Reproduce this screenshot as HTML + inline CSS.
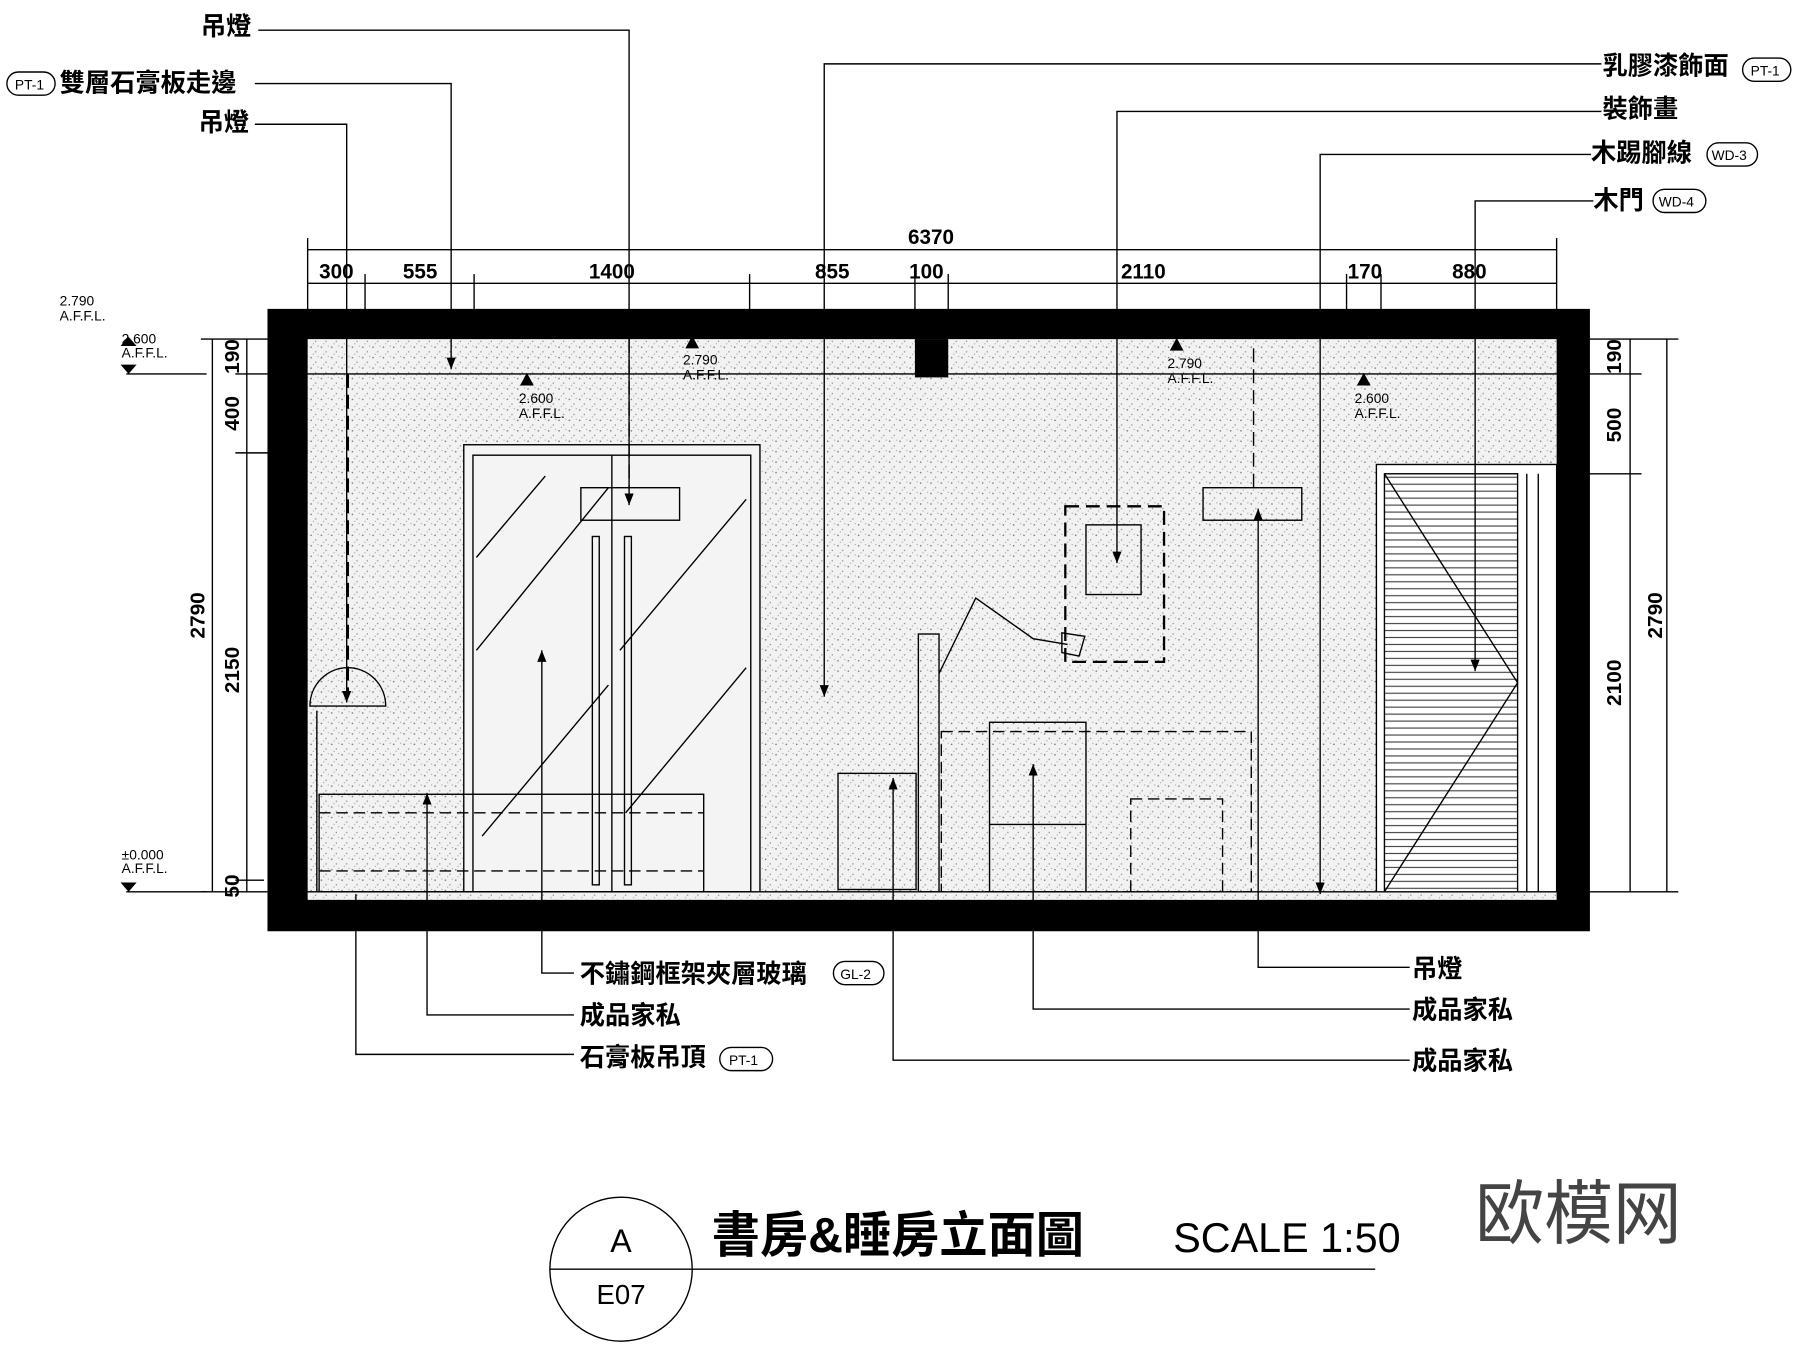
<!DOCTYPE html>
<html><head><meta charset="utf-8"><style>
html,body{margin:0;padding:0;background:#fff;}
svg{display:block;}
text{font-family:"Liberation Sans","Noto Sans CJK TC",sans-serif;fill:#000;}
.cj{font-weight:bold;font-size:22px;}
.dim{font-size:18px;font-weight:bold;}
.sm{font-size:12px;}
</style></head><body>
<svg width="1800" height="1347" viewBox="0 0 1568 1160" preserveAspectRatio="none" xmlns="http://www.w3.org/2000/svg">
<defs>
<pattern id="sp" width="9" height="9" patternUnits="userSpaceOnUse">
<rect width="9" height="9" fill="#f2f2f2"/>
<circle cx="1" cy="2" r="0.7" fill="#777"/><circle cx="5" cy="6" r="0.6" fill="#888"/><circle cx="7" cy="1" r="0.5" fill="#999"/><circle cx="3" cy="8" r="0.5" fill="#999"/>
</pattern>
<pattern id="sl" width="10" height="6" patternUnits="userSpaceOnUse">
<rect width="10" height="6" fill="#fff"/><line x1="0" y1="3" x2="10" y2="3" stroke="#444" stroke-width="1"/>
</pattern>
<marker id="ar" markerWidth="10" markerHeight="8" refX="10" refY="4" orient="auto" markerUnits="userSpaceOnUse"><path d="M0,0 L10,4 L0,8 Z" fill="#000"/></marker>
</defs>
<rect width="1568" height="1160" fill="#fff"/>
<rect x="268" y="292" width="1088" height="483" fill="url(#sp)"/>
<path d="M233,266 H1385 V802 H233 Z M268,292 V775 H1356 V292 Z" fill="#000" fill-rule="evenodd"/>
<rect x="797" y="292" width="29" height="33" fill="#000"/>
<g stroke="#000" fill="none" stroke-width="1.2">
<line x1="268" y1="322" x2="1356" y2="322"/>
<line x1="268" y1="768" x2="1356" y2="768"/>
<rect x="404" y="383" width="258" height="385" fill="#f4f4f4"/>
<rect x="412" y="392" width="242" height="376"/>
<line x1="533" y1="392" x2="533" y2="768"/>
<rect x="516" y="462" width="6" height="300"/><rect x="544" y="462" width="6" height="300"/>
<line x1="415" y1="480" x2="475" y2="410"/><line x1="415" y1="560" x2="530" y2="420"/>
<line x1="420" y1="720" x2="530" y2="590"/><line x1="540" y1="560" x2="650" y2="430"/>
<line x1="545" y1="700" x2="650" y2="575"/>
<rect x="506" y="420" width="86" height="28"/>
<rect x="1199" y="400" width="157" height="368" fill="#fff"/>
<rect x="1206" y="408" width="116" height="360" fill="url(#sl)"/>
<line x1="1206" y1="408" x2="1322" y2="588"/><line x1="1206" y1="768" x2="1322" y2="588"/>
<line x1="1330" y1="408" x2="1330" y2="768"/><line x1="1340" y1="408" x2="1340" y2="768"/>
<rect x="278" y="684" width="335" height="84"/>
<line x1="278" y1="700" x2="613" y2="700" stroke-dasharray="10,5"/>
<line x1="278" y1="750" x2="613" y2="750" stroke-dasharray="10,5"/>
<line x1="276" y1="612" x2="276" y2="768"/>
<path d="M270,608 A33,33 0 0 1 336,608 Z"/>
<rect x="730" y="666" width="68" height="100"/>
<rect x="800" y="546" width="18" height="222"/>
<rect x="820" y="630" width="270" height="138" stroke-dasharray="10,5"/>
<rect x="862" y="622" width="84" height="146"/>
<line x1="862" y1="710" x2="946" y2="710"/>
<rect x="985" y="688" width="80" height="80" stroke-dasharray="10,5"/>
<path d="M818,580 L850,515 L900,550 L930,555"/>
<path d="M925,545 L945,548 L940,565 L925,562 Z"/>
<rect x="928" y="436" width="86" height="134" stroke-dasharray="12,6" stroke-width="2"/>
<rect x="946" y="452" width="48" height="60"/>
<rect x="1048" y="420" width="86" height="28"/>
<line x1="1092" y1="300" x2="1092" y2="420" stroke-dasharray="12,6"/>
<line x1="548" y1="292" x2="548" y2="420" stroke-dasharray="12,6"/>
<line x1="303" y1="322" x2="303" y2="600" stroke-dasharray="12,6" stroke-width="2"/>
<line x1="268" y1="215" x2="1356" y2="215"/>
<line x1="268" y1="244" x2="1356" y2="244"/>
<line x1="268" y1="205" x2="268" y2="290"/><line x1="1356" y1="205" x2="1356" y2="290"/>
<line x1="318" y1="236" x2="318" y2="290"/><line x1="413" y1="236" x2="413" y2="290"/>
<line x1="653" y1="236" x2="653" y2="290"/><line x1="797" y1="236" x2="797" y2="290"/>
<line x1="826" y1="236" x2="826" y2="290"/><line x1="1173" y1="236" x2="1173" y2="290"/>
<line x1="1203" y1="236" x2="1203" y2="290"/>
<line x1="185" y1="292" x2="185" y2="768"/><line x1="215" y1="292" x2="215" y2="768"/>
<line x1="175" y1="292" x2="268" y2="292"/><line x1="205" y1="322" x2="268" y2="322"/>
<line x1="205" y1="390" x2="268" y2="390"/><line x1="175" y1="768" x2="268" y2="768"/>
<line x1="205" y1="758" x2="230" y2="758"/>
<line x1="110" y1="322" x2="180" y2="322"/><line x1="110" y1="768" x2="180" y2="768"/>
<line x1="1420" y1="292" x2="1420" y2="768"/><line x1="1452" y1="292" x2="1452" y2="768"/>
<line x1="1356" y1="292" x2="1462" y2="292"/><line x1="1356" y1="322" x2="1430" y2="322"/>
<line x1="1356" y1="408" x2="1430" y2="408"/><line x1="1356" y1="768" x2="1462" y2="768"/>
<polyline points="225,26 548,26 548,435" marker-end="url(#ar)"/>
<polyline points="222,72 393,72 393,318" marker-end="url(#ar)"/>
<polyline points="222,107 302,107 302,605" marker-end="url(#ar)"/>
<polyline points="1395,55 718,55 718,600" marker-end="url(#ar)"/>
<polyline points="1395,96 973,96 973,485" marker-end="url(#ar)"/>
<polyline points="1386,133 1150,133 1150,770" marker-end="url(#ar)"/>
<polyline points="1388,173 1285,173 1285,578" marker-end="url(#ar)"/>
<polyline points="500,838 472,838 472,560" marker-end="url(#ar)"/>
<polyline points="500,874 372,874 372,683" marker-end="url(#ar)"/>
<polyline points="500,908 310,908 310,770"/>
<polyline points="1228,833 1096,833 1096,438" marker-end="url(#ar)"/>
<polyline points="1228,869 900,869 900,658" marker-end="url(#ar)"/>
<polyline points="1228,913 778,913 778,670" marker-end="url(#ar)"/>
<circle cx="541" cy="1093" r="62"/>
<line x1="479" y1="1093" x2="1198" y2="1093"/>
</g>
<g fill="#000">
<path d="M453,332 L459,321 L465,332Z"/><path d="M597,300 L603,289 L609,300Z"/>
<path d="M1019,302 L1025,291 L1031,302Z"/><path d="M1182,332 L1188,321 L1194,332Z"/>
<path d="M105,298 L112,290 L119,298Z"/><path d="M105,314 L112,322 L119,314Z"/>
<path d="M105,760 L112,768 L119,760Z"/>
</g>
<g class="sm">
<text x="452" y="347">2.600</text><text x="452" y="360">A.F.F.L.</text>
<text x="595" y="314">2.790</text><text x="595" y="327">A.F.F.L.</text>
<text x="1017" y="317">2.790</text><text x="1017" y="330">A.F.F.L.</text>
<text x="1180" y="347">2.600</text><text x="1180" y="360">A.F.F.L.</text>
<text x="52" y="263">2.790</text><text x="52" y="276">A.F.F.L.</text>
<text x="106" y="296">2.600</text><text x="106" y="308">A.F.F.L.</text>
<text x="106" y="740">±0.000</text><text x="106" y="752">A.F.F.L.</text>
</g>
<g class="dim" text-anchor="middle">
<text x="811" y="210">6370</text>
<text x="293" y="240">300</text><text x="366" y="240">555</text><text x="533" y="240">1400</text>
<text x="725" y="240">855</text><text x="807" y="240">100</text><text x="996" y="240">2110</text>
<text x="1189" y="240">170</text><text x="1280" y="240">880</text>
<text transform="translate(208,307) rotate(-90)">190</text>
<text transform="translate(208,356) rotate(-90)">400</text>
<text transform="translate(208,577) rotate(-90)">2150</text>
<text transform="translate(208,763) rotate(-90)">50</text>
<text transform="translate(178,530) rotate(-90)">2790</text>
<text transform="translate(1412,307) rotate(-90)">190</text>
<text transform="translate(1412,366) rotate(-90)">500</text>
<text transform="translate(1412,588) rotate(-90)">2100</text>
<text transform="translate(1448,530) rotate(-90)">2790</text>
</g>
<g class="cj">
<text x="175" y="30">吊燈</text>
<text x="52" y="79">雙層石膏板走邊</text>
<text x="173" y="113">吊燈</text>
<text x="1396" y="64">乳膠漆飾面</text>
<text x="1396" y="101">裝飾畫</text>
<text x="1386" y="139">木踢腳線</text>
<text x="1388" y="180">木門</text>
<text x="505" y="846">不鏽鋼框架夾層玻璃</text>
<text x="505" y="882">成品家私</text>
<text x="505" y="918">石膏板吊頂</text>
<text x="1230" y="842">吊燈</text>
<text x="1230" y="877">成品家私</text>
<text x="1230" y="921">成品家私</text>
</g>
<g fill="none" stroke="#000" stroke-width="1.2">
<rect x="6" y="62" width="42" height="20" rx="10"/>
<rect x="1518" y="50" width="42" height="20" rx="10"/>
<rect x="1487" y="123" width="44" height="20" rx="10"/>
<rect x="1440" y="163" width="46" height="20" rx="10"/>
<rect x="726" y="828" width="44" height="20" rx="10"/>
<rect x="627" y="902" width="46" height="20" rx="10"/>
</g>
<g font-size="12">
<text x="13" y="77">PT-1</text><text x="1525" y="65">PT-1</text>
<text x="1491" y="138">WD-3</text><text x="1445" y="178">WD-4</text>
<text x="732" y="843">GL-2</text><text x="635" y="917">PT-1</text>
</g>
<text x="541" y="1078" font-size="28" text-anchor="middle">A</text>
<text x="541" y="1123" font-size="24" text-anchor="middle">E07</text>
<text x="620" y="1078" font-size="42" font-weight="bold">書房&amp;睡房立面圖</text>
<text x="1022" y="1078" font-size="36">SCALE 1:50</text>
<text x="1285" y="1066" font-size="60" style="fill:#444">欧模网</text>
</svg>
</body></html>
